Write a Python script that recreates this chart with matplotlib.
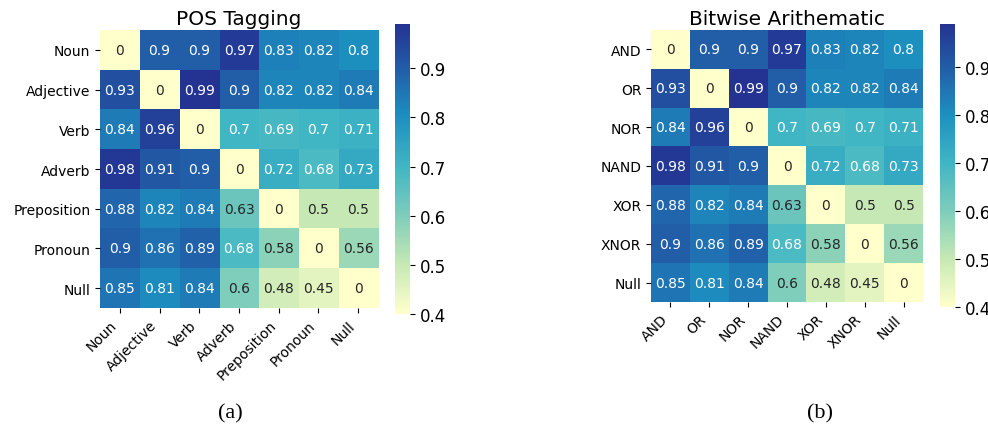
import numpy as np
import matplotlib
matplotlib.use('Agg')
import matplotlib.pyplot as plt
from matplotlib.colors import to_rgb, LinearSegmentedColormap

pos_labels = ['Noun', 'Adjective', 'Verb', 'Adverb', 'Preposition', 'Pronoun', 'Null']
pos_values = np.array([
    [0, 0.9, 0.9, 0.97, 0.83, 0.82, 0.8],
    [0.93, 0, 0.99, 0.9, 0.82, 0.82, 0.84],
    [0.84, 0.96, 0, 0.7, 0.69, 0.7, 0.71],
    [0.98, 0.91, 0.9, 0, 0.72, 0.68, 0.73],
    [0.88, 0.82, 0.84, 0.63, 0, 0.5, 0.5],
    [0.9, 0.86, 0.89, 0.68, 0.58, 0, 0.56],
    [0.85, 0.81, 0.84, 0.6, 0.48, 0.45, 0],
])

bit_labels = ['AND', 'OR', 'NOR', 'NAND', 'XOR', 'XNOR', 'Null']
bit_values = np.array([
    [0, 0.9, 0.9, 0.97, 0.83, 0.82, 0.8],
    [0.93, 0, 0.99, 0.9, 0.82, 0.82, 0.84],
    [0.84, 0.96, 0, 0.7, 0.69, 0.7, 0.71],
    [0.98, 0.91, 0.9, 0, 0.72, 0.68, 0.73],
    [0.88, 0.82, 0.84, 0.63, 0, 0.5, 0.5],
    [0.9, 0.86, 0.89, 0.68, 0.58, 0, 0.56],
    [0.85, 0.81, 0.84, 0.6, 0.48, 0.45, 0],
])

VMIN = 0.4
W, H = 988, 431

# lighter YlGnBu variant (pale yellow -> mid blue)
_base = plt.get_cmap('YlGnBu')
_stops = [0.4, 0.5, 0.6, 0.7, 0.8, 0.9, 0.99]
_cols = ['#ffffcc'] + [_base(0.25 + k * 0.125) for k in range(6)]
CMAP = LinearSegmentedColormap.from_list(
    'ylgnbu_light', [((s - 0.4) / 0.59, c) for s, c in zip(_stops, _cols)])


def luminance(rgb):
    c = np.array(rgb)
    c = np.where(c <= 0.03928, c / 12.92, ((c + 0.055) / 1.055) ** 2.4)
    return 0.2126 * c[0] + 0.7152 * c[1] + 0.0722 * c[2]


def px_axes(fig, x0, y0, x1, y1):
    return fig.add_axes([x0 / W, 1 - y1 / H, (x1 - x0) / W, (y1 - y0) / H])


def heatmap(fig, box, cbox, data, labels, title, caption, cap_x):
    ax = px_axes(fig, *box)
    cax = px_axes(fig, *cbox)
    vmax = data.max()
    im = ax.imshow(data, cmap=CMAP, vmin=VMIN, vmax=vmax, aspect='auto',
                   interpolation='nearest')
    n = len(labels)
    for i in range(n):
        for j in range(n):
            v = data[i, j]
            rgb = to_rgb(CMAP((min(max(v, VMIN), vmax) - VMIN) / (vmax - VMIN)))
            col = '#262626' if luminance(rgb) > 0.408 else 'white'
            ax.text(j, i, f'{v:g}', ha='center', va='center', fontsize=10, color=col)
    ax.set_xticks(range(n))
    ax.set_yticks(range(n))
    ax.set_xticklabels(labels, rotation=45, ha='right', fontsize=10)
    ax.set_yticklabels(labels, fontsize=10)
    ax.tick_params(length=3.5, width=0.8)
    for s in ax.spines.values():
        s.set_visible(False)
    ax.set_title(title, fontsize=14.5, pad=4)

    cb = fig.colorbar(im, cax=cax)
    cb.outline.set_visible(False)
    cb.set_ticks([0.4, 0.5, 0.6, 0.7, 0.8, 0.9])
    cb.ax.tick_params(labelsize=12, length=3.5, width=0.8)

    fig.text(cap_x / W, 1 - 414 / H, caption, ha='center', va='center',
             fontsize=16, family='Liberation Serif')


fig = plt.figure(figsize=(9.88, 4.31), dpi=100)
heatmap(fig, (100, 31, 378, 309), (395, 25, 410, 315), pos_values, pos_labels,
        'POS Tagging', '(a)', 230)
heatmap(fig, (651, 31, 923, 303), (940, 25, 955, 308), bit_values, bit_labels,
        'Bitwise Arithematic', '(b)', 820)

fig.savefig('out.png', dpi=100)
